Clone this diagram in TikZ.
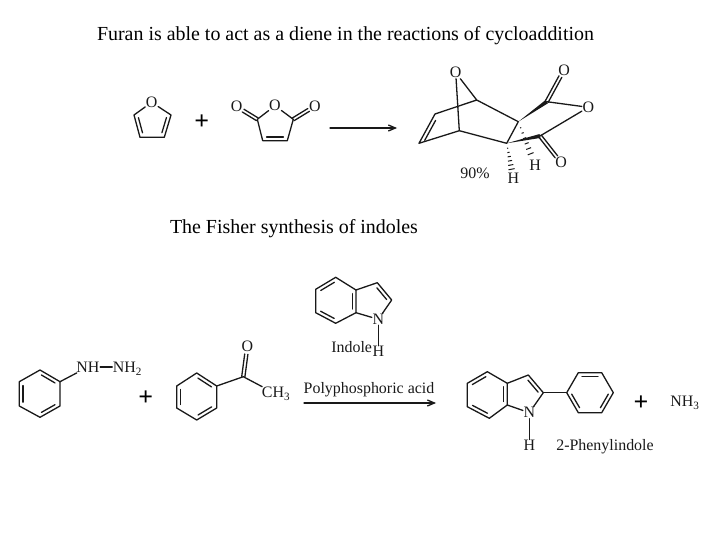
\documentclass[tikz,border=0pt]{standalone}
\usepackage{fontspec}
\setmainfont{Liberation Serif}
\usetikzlibrary{calc,arrows.meta}
\tikzset{
  bond/.style={line width=1.3bp,line cap=round,line join=round,black!90},
  atom/.style={inner sep=0.5bp,font=\fontsize{16}{16}\selectfont,text=black!90},
  smalltxt/.style={inner sep=0bp,font=\fontsize{16}{16}\selectfont,text=black!90},
  title/.style={inner sep=0bp,font=\fontsize{20}{20}\selectfont,text=black},
  plus/.style={inner sep=0bp,font=\fontsize{26}{26}\selectfont\bfseries,text=black},
  rarrow/.style={bond,-{Straight Barb[length=7bp,width=6bp]}},
}
\newcommand{\pts}[1]{\foreach \nn/\xx/\yy in {#1}{\coordinate (\nn) at (\xx,\yy);}}
% inner line of a double bond, on the right of a->b (clockwise ring)
\newcommand{\dbl}[3][-90]{\draw[bond] ($(#2)!.16!(#3)!3.6bp!#1:(#3)$) -- ($(#3)!.16!(#2)!3.6bp!-#1:(#2)$);}
% C=O: carbon coordinate to oxygen node, two parallel lines that stop short of the letter
\newcommand{\co}[2]{%
  \draw[bond,shorten >=7.5bp] ($(#1)!1.6bp!90:(#2.center)$) -- ($(#2.center)!1.6bp!-90:(#1)$);
  \draw[bond,shorten >=7.5bp] ($(#1)!1.6bp!-90:(#2.center)$) -- ($(#2.center)!1.6bp!90:(#1)$);}
\newcommand{\hashb}[2]{\foreach \t in {.14,.26,.38,.5,.62,.74}{\draw[line width=1bp,black!90] ($(#1)!\t!(#2.center)!\t*4.2bp!90:(#2.center)$) -- ($(#1)!\t!(#2.center)!\t*4.2bp!-90:(#2.center)$);}}
\newcommand{\wedgeb}[2]{\fill[black!90] (#1) -- ($(#2)!2bp!90:(#1)$) -- ($(#2)!2bp!-90:(#1)$) -- cycle;}
\begin{document}
\begin{tikzpicture}[x=1bp,y=-1bp]
\useasboundingbox (0,0) rectangle (720,540);
\fill[white] (0,0) rectangle (720,540);
\node[title] (t1) at (345.5,35.5) {Furan is able to act as a diene in the reactions of cycloaddition};
\node[title] (t2) at (294,228.5) {The Fisher synthesis of indoles};

% furan
\node[atom] (fO) at (151.7,102.3) {O};
\pts{fL/134/115,fR/171/115,fBL/140/137.3,fBR/164.3/137.3}
\draw[bond] (fO) -- (fR) -- (fBR) -- (fBL) -- (fL) -- (fO);
\dbl{fR}{fBR}\dbl{fBL}{fL}
\node[plus] (p1) at (201.7,122.5) {+};

% maleic anhydride
\node[atom] (mO) at (275,105.7) {O};
\node[atom] (mOL) at (236.7,106.7) {O};
\node[atom] (mOR) at (315,106) {O};
\pts{mL/257.3/119.3,mR/293.3/119.3,mBL/262.7/140.7,mBR/287.3/140.7}
\draw[bond] (mO) -- (mR) -- (mBR) -- (mBL) -- (mL) -- (mO);
\dbl{mBR}{mBL}
\co{mL}{mOL}\co{mR}{mOR}
\coordinate (a1s) at (330,128); \coordinate (a1e) at (397,128);
\draw[rarrow] (a1s) -- (a1e);

% cycloadduct
\node[atom] (pO) at (455.7,72.7) {O};
\node[atom] (pO1) at (564,70) {O};
\node[atom] (pO2) at (588.3,107.3) {O};
\node[atom] (pO3) at (561,162.7) {O};
\node[atom] (pH1) at (535,165) {H};
\node[atom] (pH2) at (513.3,178.3) {H};
\node[smalltxt] (yield) at (475,173.3) {90\%};
\pts{pA/476.7/100,pB/518.3/121.7,pC/506.7/143.3,pD/459.3/130.7,pE/435/114,pF/419/143.3,pG/546.7/101.7,pJ/540/136}
\draw[bond] (pO) -- (pA) -- (pB) -- (pC) -- (pD) -- (pF) -- (pE) -- (pA);
\draw[bond] (pO) -- (pD);
\dbl[90]{pE}{pF}
\wedgeb{pB}{pG}\wedgeb{pC}{pJ}
\draw[bond] (pG) -- (pO2) -- (pJ);
\co{pG}{pO1}\co{pJ}{pO3}
\hashb{pB}{pH1}\hashb{pC}{pH2}

% phenylhydrazine
\pts{a1/40/370,a2/60/381.7,a3/60/406,a4/40/417.3,a5/19.3/406,a6/19.3/381.7}
\draw[bond] (a1) -- (a2) -- (a3) -- (a4) -- (a5) -- (a6) -- cycle;
\dbl{a1}{a2}\dbl{a3}{a4}\dbl{a5}{a6}
\node[atom] (nh) at (88,367) {NH};
\node[atom] (nh2) at (127.5,369) {NH\textsubscript{2}};
\draw[bond] (a2) -- (nh);
\draw[bond] (nh) -- (nh -| nh2.west);
\node[plus] (p2) at (145.7,398) {+};

% acetophenone
\pts{b1/196.7/373,b2/216.7/386,b3/216.7/408,b4/196.7/420,b5/176.7/408,b6/176.7/386,bC/243.3/376.7}
\draw[bond] (b1) -- (b2) -- (b3) -- (b4) -- (b5) -- (b6) -- cycle;
\dbl{b1}{b2}\dbl{b3}{b4}\dbl{b5}{b6}
\node[atom] (bO) at (247.3,346.7) {O};
\node[atom] (bMe) at (276,394) {CH\textsubscript{3}};
\draw[bond] (b2) -- (bC) -- (bMe);
\co{bC}{bO}

% indole
\pts{c1/335.7/277.3,c2/356/290,c3/356/312.7,c4/335.7/323.3,c5/315.7/312.7,c6/315.7/289.3,cC3/377.3/282.7,cC2/391.7/300}
\node[atom] (cN) at (378.3,319.3) {N};
\node[atom] (cH) at (378.3,351.7) {H};
\node[smalltxt] (cT) at (351.7,347) {Indole};
\draw[bond] (c1) -- (c2) -- (c3) -- (c4) -- (c5) -- (c6) -- cycle;
\dbl[90]{c1}{c6}
\draw[bond] (c2) -- (cC3) -- (cC2) -- (cN) -- (c3);
\dbl{cC3}{cC2}
\dbl{c2}{c3}
\dbl{c4}{c5}
\draw[bond] (cN) -- (cH);

% reagent and arrow
\node[smalltxt] (reag) at (369,389.5) {Polyphosphoric acid};
\coordinate (a2s) at (304,403); \coordinate (a2e) at (436,403);
\draw[rarrow] (a2s) -- (a2e);

% 2-phenylindole
\pts{d1/487.3/371.7,d2/507.3/383.3,d3/507.3/405,d4/489.3/418.3,d5/467.3/406.7,d6/467.3/383.3,dC3/528.3/375,dC2/543.3/392.7}
\node[atom] (dN) at (529.3,412.7) {N};
\node[atom] (dH) at (529.3,445.5) {H};
\draw[bond] (d1) -- (d2) -- (d3) -- (d4) -- (d5) -- (d6) -- cycle;
\dbl[90]{d1}{d6}
\dbl{d2}{d3}
\dbl{d4}{d5}
\draw[bond] (d2) -- (dC3) -- (dC2) -- (dN) -- (d3);
\dbl{dC3}{dC2}
\draw[bond] (dN) -- (dH);
\pts{e1/566.7/392.7,e2/578.3/372.7,e3/601.7/372.7,e4/613.3/392.7,e5/601.7/412.7,e6/578.3/412.7}
\draw[bond] (e1) -- (e2) -- (e3) -- (e4) -- (e5) -- (e6) -- cycle;
\dbl{e2}{e3}\dbl{e4}{e5}\dbl{e6}{e1}
\draw[bond] (dC2) -- (e1);
\node[smalltxt] (dT) at (605,447) {2-Phenylindole};
\node[plus] (p3) at (641,403.5) {+};
\node[atom] (nh3) at (685,403) {NH\textsubscript{3}};
\end{tikzpicture}
\end{document}
